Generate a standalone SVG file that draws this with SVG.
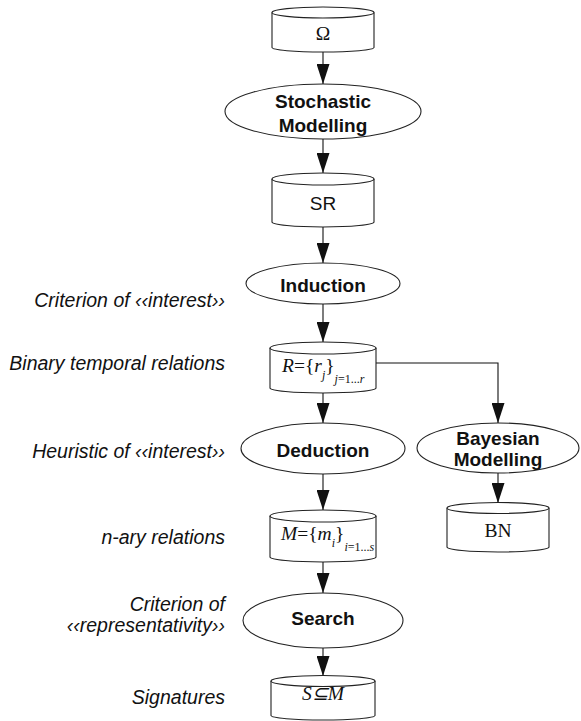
<svg xmlns="http://www.w3.org/2000/svg" width="581" height="721" viewBox="0 0 581 721">
  <defs>
    <marker id="arrow" markerUnits="userSpaceOnUse" markerWidth="20" markerHeight="13" refX="20" refY="6.5" orient="auto">
      <path d="M0,0 L20,6.5 L0,13 z" fill="#111"/>
    </marker>
    <style>
      .shape { fill: #fff; stroke: #222; stroke-width: 1.1; }
      .conn { fill: none; stroke: #111; stroke-width: 1.1; }
      .proc { font-family: "Liberation Sans", Arial, sans-serif; font-weight: bold; font-size: 19px; fill: #111; text-anchor: middle; }
      .sans { font-family: "Liberation Sans", Arial, sans-serif; font-size: 19px; fill: #111; text-anchor: middle; }
      .serif { font-family: "Liberation Serif", "Times New Roman", serif; font-size: 19.5px; fill: #111; }
      .note { font-family: "Liberation Sans", Arial, sans-serif; font-style: italic; font-size: 19.5px; fill: #111; text-anchor: end; }
      .it { font-style: italic; }
      .sub { font-size: 12px; }
    </style>
  </defs>

  <!-- connectors -->
  <g id="connectors">
    <line class="conn" x1="323" y1="52" x2="323" y2="84" marker-end="url(#arrow)"/>
    <line class="conn" x1="323" y1="139" x2="323" y2="173" marker-end="url(#arrow)"/>
    <line class="conn" x1="323" y1="227" x2="323" y2="263" marker-end="url(#arrow)"/>
    <line class="conn" x1="323" y1="304" x2="323" y2="342" marker-end="url(#arrow)"/>
    <line class="conn" x1="323" y1="393" x2="323" y2="423" marker-end="url(#arrow)"/>
    <line class="conn" x1="323" y1="474" x2="323" y2="510" marker-end="url(#arrow)"/>
    <line class="conn" x1="323" y1="562" x2="323" y2="593" marker-end="url(#arrow)"/>
    <line class="conn" x1="323" y1="648" x2="323" y2="676" marker-end="url(#arrow)"/>
    <polyline class="conn" points="376,363 498,363 498,423" marker-end="url(#arrow)"/>
    <line class="conn" x1="498" y1="473" x2="498" y2="503" marker-end="url(#arrow)"/>
  </g>

  <!-- data stores (cylinders) -->
  <g id="omega">
    <path class="shape" d="M272,12.5 L272,47.5 A51,4.5 0 0 0 374,47.5 L374,12.5"/>
    <ellipse class="shape" cx="323" cy="12.5" rx="51" ry="5.5"/>
    <text class="serif" x="323" y="40" text-anchor="middle">Ω</text>
  </g>

  <g id="sr">
    <path class="shape" d="M272,179 L272,222 A51,5 0 0 0 374,222 L374,179"/>
    <ellipse class="shape" cx="323" cy="179" rx="51" ry="6"/>
    <text class="sans" x="323" y="210">SR</text>
  </g>

  <g id="relations-r">
    <path class="shape" d="M270,348 L270,388 A53,5 0 0 0 376,388 L376,348"/>
    <ellipse class="shape" cx="323" cy="348" rx="53" ry="6"/>
    <text class="serif" x="282" y="372"><tspan class="it">R</tspan>={<tspan class="it">r</tspan><tspan class="it sub" dy="7">j</tspan><tspan dy="-7">}</tspan><tspan class="sub" dy="11"><tspan class="it">j</tspan>=1...<tspan class="it">r</tspan></tspan></text>
  </g>

  <g id="relations-m">
    <path class="shape" d="M270,516 L270,557 A53,5 0 0 0 376,557 L376,516"/>
    <ellipse class="shape" cx="323" cy="516" rx="53" ry="6"/>
    <text class="serif" x="281" y="540"><tspan class="it">M</tspan>={<tspan class="it">m</tspan><tspan class="it sub" dy="7">i</tspan><tspan dy="-7">}</tspan><tspan class="sub" dy="11"><tspan class="it">i</tspan>=1...<tspan class="it">s</tspan></tspan></text>
  </g>

  <g id="bn">
    <path class="shape" d="M447,508 L447,547 A51,5 0 0 0 549,547 L549,508"/>
    <ellipse class="shape" cx="498" cy="508" rx="51" ry="5.5"/>
    <text class="serif" x="498" y="537" text-anchor="middle">BN</text>
  </g>

  <g id="signatures">
    <path class="shape" d="M271,681 L271,715.5 A52,4.5 0 0 0 375,715.5 L375,681"/>
    <ellipse class="shape" cx="323" cy="681" rx="52" ry="5.5"/>
    <text class="serif it" x="323" y="700" text-anchor="middle">S⊆M</text>
  </g>

  <!-- processes (ellipses) -->
  <g id="stochastic-modelling">
    <ellipse class="shape" cx="323" cy="111.5" rx="98" ry="27.5"/>
    <text class="proc" x="323" y="108">Stochastic</text>
    <text class="proc" x="323" y="132">Modelling</text>
  </g>

  <g id="induction">
    <ellipse class="shape" cx="323" cy="283.5" rx="77" ry="20.5"/>
    <text class="proc" x="323" y="292">Induction</text>
  </g>

  <g id="deduction">
    <ellipse class="shape" cx="323" cy="448.5" rx="82" ry="25.5"/>
    <text class="proc" x="323" y="457">Deduction</text>
  </g>

  <g id="bayesian-modelling">
    <ellipse class="shape" cx="498" cy="448" rx="81" ry="25"/>
    <text class="proc" x="498" y="445">Bayesian</text>
    <text class="proc" x="498" y="466">Modelling</text>
  </g>

  <g id="search">
    <ellipse class="shape" cx="323" cy="620.5" rx="80" ry="27.5"/>
    <text class="proc" x="323" y="625">Search</text>
  </g>

  <!-- side annotations -->
  <g id="annotations">
    <text class="note" x="225" y="307">Criterion of ‹‹interest››</text>
    <text class="note" x="225" y="370">Binary temporal relations</text>
    <text class="note" x="225" y="458">Heuristic of ‹‹interest››</text>
    <text class="note" x="225" y="544">n-ary relations</text>
    <text class="note" x="225" y="611">Criterion of</text>
    <text class="note" x="225" y="632">‹‹representativity››</text>
    <text class="note" x="225" y="704">Signatures</text>
  </g>
</svg>
